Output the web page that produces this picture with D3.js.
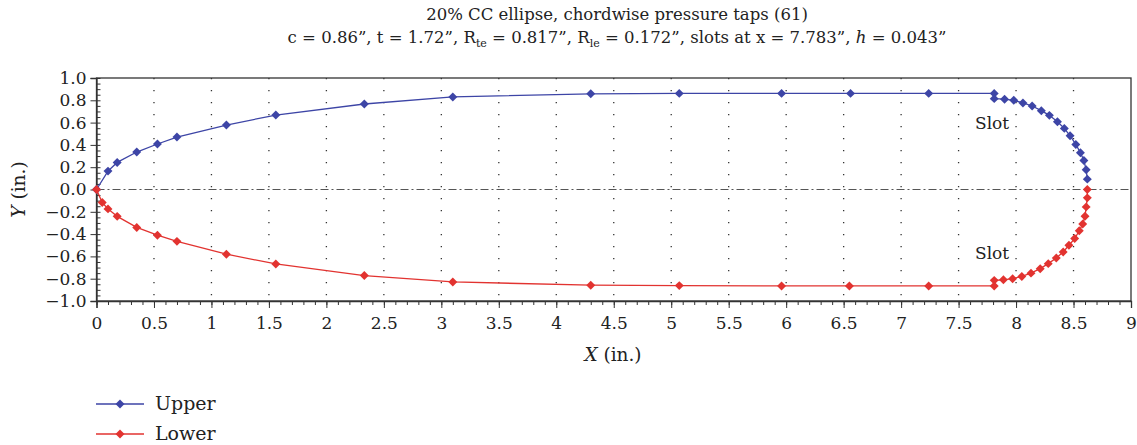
<!DOCTYPE html>
<html>
<head>
  <meta charset="utf-8" />
  <script src="https://d3js.org/d3.v7.min.js"></script>
  <style>
    body { margin: 0; background: #fff; }
    svg text { font-family: "DejaVu Serif", "Liberation Serif", serif !important; fill: #222; }
  </style>
</head>
<body>
  <div id="chart"></div>
  <script>
    // tap coordinates (inches)
    const upperX = [0, 0.10, 0.18, 0.35, 0.53, 0.70, 1.13, 1.56, 2.33, 3.10, 4.30, 5.07, 5.96, 6.56, 7.24, 7.81,
      7.81, 7.90, 7.98, 8.06, 8.14, 8.22, 8.29, 8.36, 8.42, 8.47, 8.52, 8.56, 8.59, 8.61, 8.62];
    const upperY = [0, 0.165, 0.243, 0.336, 0.408, 0.47, 0.578, 0.668, 0.767, 0.83, 0.858, 0.862, 0.862, 0.862, 0.862, 0.862,
      0.815, 0.81, 0.80, 0.776, 0.749, 0.707, 0.665, 0.608, 0.548, 0.482, 0.404, 0.33, 0.26, 0.177, 0.093];
    const lowerX = [0, 0.05, 0.10, 0.18, 0.35, 0.53, 0.70, 1.13, 1.56, 2.33, 3.10, 4.30, 5.07, 5.96, 6.55, 7.24, 7.81,
      7.81, 7.89, 7.97, 8.05, 8.13, 8.21, 8.28, 8.35, 8.41, 8.46, 8.51, 8.55, 8.58, 8.60, 8.61, 8.62, 8.62];
    const lowerY = [0, -0.117, -0.174, -0.241, -0.34, -0.41, -0.465, -0.58, -0.668, -0.772, -0.829, -0.858, -0.862, -0.865, -0.865, -0.865, -0.865,
      -0.815, -0.81, -0.80, -0.78, -0.75, -0.71, -0.665, -0.615, -0.56, -0.50, -0.44, -0.37, -0.31, -0.24, -0.156, -0.075, 0];

    const xTicks = [0, 0.5, 1, 1.5, 2, 2.5, 3, 3.5, 4, 4.5, 5, 5.5, 6, 6.5, 7, 7.5, 8, 8.5, 9];
    const yTicks = [1.0, 0.8, 0.6, 0.4, 0.2, 0.0, -0.2, -0.4, -0.6, -0.8, -1.0];

    const series = [
      { name: "Upper", color: "#3d45a6", xs: upperX, ys: upperY },
      { name: "Lower", color: "#e23330", xs: lowerX, ys: lowerY }
    ];

    const width = 1137, height = 445;
    const margin = { left: 96.5, right: 6, top: 78, bottom: 144 };
    const serif = "'DejaVu Serif', 'Liberation Serif', serif";

    const svg = d3.select("#chart").append("svg")
      .attr("width", width)
      .attr("height", height);

    const x = d3.scaleLinear().domain([0, 9]).range([margin.left, width - margin.right]);
    const y = d3.scaleLinear().domain([-1, 1]).range([height - margin.bottom, margin.top]);

    // title
    const title = svg.append("g").attr("font-size", 16.5);
    title.append("text").attr("x", 617).attr("y", 20).attr("text-anchor", "middle")
      .text("20% CC ellipse, chordwise pressure taps (61)");
    const t2 = title.append("text").attr("x", 617).attr("y", 43).attr("text-anchor", "middle");
    t2.append("tspan").text("c = 0.86”, t = 1.72”, R");
    t2.append("tspan").attr("font-size", 11).attr("dy", 4).text("te");
    t2.append("tspan").attr("dy", -4).text(" = 0.817”, R");
    t2.append("tspan").attr("font-size", 11).attr("dy", 4).text("le");
    t2.append("tspan").attr("dy", -4).text(" = 0.172”, slots at x = 7.783”, ");
    t2.append("tspan").attr("font-style", "italic").text("h");
    t2.append("tspan").text(" = 0.043”");

    // vertical dotted grid
    svg.append("g").selectAll("line")
      .data(xTicks.filter(d => d > 0 && d < 9))
      .join("line")
      .attr("x1", d => x(d)).attr("x2", d => x(d))
      .attr("y1", y(1)).attr("y2", y(-1))
      .attr("stroke", "#333").attr("stroke-width", 1.3)
      .attr("stroke-dasharray", "1.3,10.7");

    // zero line dash-dot
    svg.append("line")
      .attr("x1", x(0)).attr("x2", x(9))
      .attr("y1", y(0)).attr("y2", y(0))
      .attr("stroke", "#555").attr("stroke-width", 1.2)
      .attr("stroke-dasharray", "8,3,2,3");

    // frame
    svg.append("rect")
      .attr("x", x(0)).attr("y", y(1))
      .attr("width", x(9) - x(0)).attr("height", y(-1) - y(1))
      .attr("fill", "none").attr("stroke", "#333").attr("stroke-width", 1.3);

    // x axis
    const xAxis = svg.append("g").attr("transform", `translate(0,${y(-1)})`);
    xAxis.call(d3.axisBottom(x).tickValues(d3.range(0, 90.5, 1).map(d => d / 10)).tickSize(4).tickFormat(""))
      .call(g => g.select(".domain").remove())
      .call(g => g.selectAll("line").attr("stroke", "#333"));
    xAxis.append("g").call(d3.axisBottom(x).tickValues(xTicks).tickSize(7).tickPadding(9)
        .tickFormat(d => String(d)))
      .attr("font-family", serif).attr("font-size", 17)
      .call(g => g.select(".domain").attr("stroke", "#333").attr("stroke-width", 1.3))
      .call(g => g.selectAll("line").attr("stroke", "#333"))
      .call(g => g.selectAll("text").attr("fill", "#222").style("font-family", serif));

    // y axis
    const yAxis = svg.append("g").attr("transform", `translate(${x(0)},0)`);
    yAxis.call(d3.axisRight(y).tickValues(d3.range(-20, 20.5, 1).map(d => d / 20)).tickSize(4).tickFormat(""))
      .call(g => g.select(".domain").remove())
      .call(g => g.selectAll("line").attr("stroke", "#333"));
    yAxis.append("g").call(d3.axisLeft(y).tickValues(yTicks).tickSize(6).tickPadding(4)
        .tickFormat(d => d3.format(".1f")(d).replace("-", "\u2212")))
      .attr("font-family", serif).attr("font-size", 17)
      .call(g => g.select(".domain").attr("stroke", "#333").attr("stroke-width", 1.3))
      .call(g => g.selectAll("line").attr("stroke", "#333"))
      .call(g => g.selectAll("text").attr("fill", "#222").style("font-family", serif));

    // axis titles
    const xl = svg.append("text").attr("x", 613).attr("y", 361).attr("text-anchor", "middle").attr("font-size", 18.5);
    xl.append("tspan").attr("font-style", "italic").text("X");
    xl.append("tspan").text(" (in.)");
    const yl = svg.append("text").attr("transform", `translate(25,${y(0)}) rotate(-90)`)
      .attr("text-anchor", "middle").attr("font-size", 18.5);
    yl.append("tspan").attr("font-style", "italic").text("Y");
    yl.append("tspan").text(" (in.)");

    // series: diamonds as 45°-rotated squares
    const diamond = d3.symbol().type(d3.symbolSquare).size(40);
    series.forEach(s => {
      const pts = s.xs.map((v, i) => [v, s.ys[i]]);
      svg.append("path")
        .datum(pts)
        .attr("fill", "none").attr("stroke", s.color).attr("stroke-width", 1.3)
        .attr("d", d3.line().x(d => x(d[0])).y(d => y(d[1])));
      svg.append("g").selectAll("path")
        .data(pts)
        .join("path")
        .attr("transform", d => `translate(${x(d[0])},${y(d[1])}) rotate(45)`)
        .attr("d", diamond)
        .attr("fill", s.color);
    });

    // slot labels
    svg.append("text").attr("x", 975).attr("y", 129).attr("font-size", 17).text("Slot");
    svg.append("text").attr("x", 975).attr("y", 259).attr("font-size", 17).text("Slot");

    // legend
    const legend = svg.append("g");
    series.forEach((s, i) => {
      const ly = 404 + i * 30;
      legend.append("line").attr("x1", 96).attr("x2", 144).attr("y1", ly).attr("y2", ly)
        .attr("stroke", s.color).attr("stroke-width", 1.3);
      legend.append("path").attr("transform", `translate(120,${ly}) rotate(45)`).attr("d", diamond).attr("fill", s.color);
      legend.append("text").attr("x", 155).attr("y", ly + 6).attr("font-size", 19).text(s.name);
    });
  </script>
</body>
</html>
